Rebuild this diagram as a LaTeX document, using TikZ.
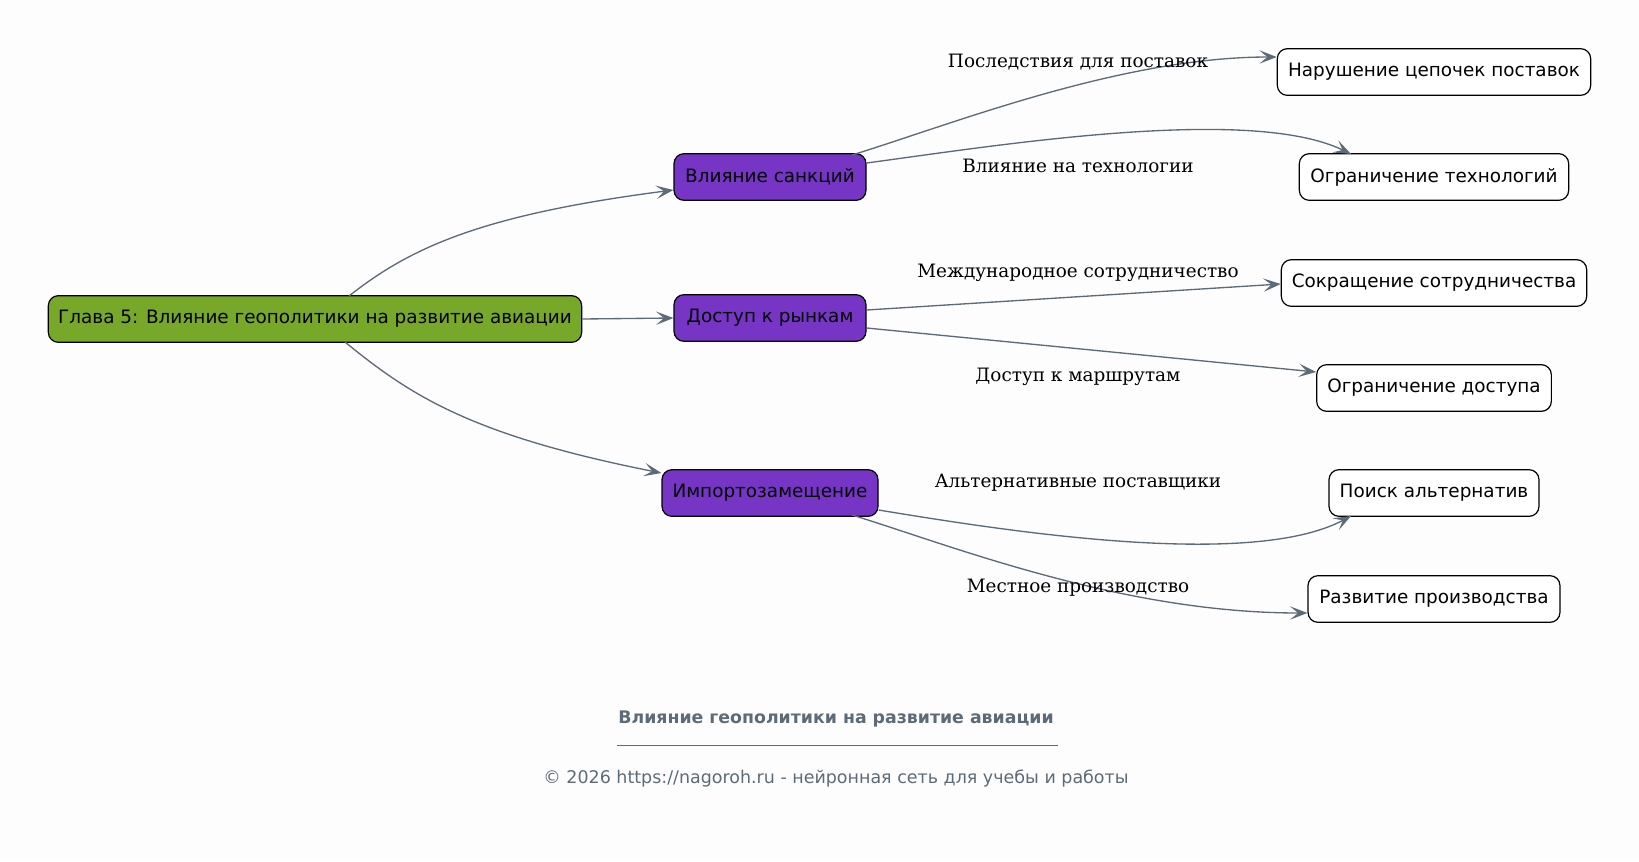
\documentclass[tikz,border=0pt]{standalone}
\usepackage{fontspec}
\setmainfont{DejaVu Serif}
\newfontfamily\djv{DejaVu Sans}
\usetikzlibrary{arrows.meta}
\definecolor{bgc}{RGB}{253,253,253}
\definecolor{slate}{RGB}{93,107,120}
\definecolor{greenn}{RGB}{120,168,42}
\definecolor{purp}{RGB}{118,53,196}
\tikzset{
  box/.style={draw=black, line width=0.9pt, rounded corners=7.5pt, minimum height=35pt, inner xsep=2pt, font=\djv\fontsize{13.8}{16}\selectfont, text=black},
  root/.style={box, fill=greenn},
  mid/.style={box, fill=purp},
  leaf/.style={box, fill=white},
  conn/.style={draw=slate, line width=1pt, -{Stealth[length=13pt,width=10pt,inset=6pt]}},
  elabel/.style={font=\fontsize{13.8}{16}\selectfont, text=black},
}
\begin{document}
\begin{tikzpicture}[x=0.75pt,y=-0.75pt]
\fill[bgc] (0,0) rectangle (1639,861);
\useasboundingbox (0,0) rectangle (1639,861);

\node[root, minimum width=400pt] (main) at (315,319) {Глава 5: Влияние геополитики на развитие авиации};
\node[mid, minimum width=144pt] (sank) at (770,177) {Влияние санкций};
\node[mid, minimum width=144pt] (rynk) at (770,318) {Доступ к рынкам};
\node[mid, minimum width=162pt] (imp) at (770,493) {Импортозамещение};

\node[leaf, minimum width=235pt] (nar) at (1434,72) {Нарушение цепочек поставок};
\node[leaf, minimum width=202pt] (ogt) at (1434,177) {Ограничение технологий};
\node[leaf, minimum width=229pt] (sok) at (1434,283) {Сокращение сотрудничества};
\node[leaf, minimum width=176pt] (ogd) at (1434,388) {Ограничение доступа};
\node[leaf, minimum width=157.5pt] (poi) at (1434,493) {Поиск альтернатив};
\node[leaf, minimum width=189pt] (raz) at (1434,599) {Развитие производства};

\coordinate (mainT) at (349,296);
\coordinate (mainB) at (345,342);
\coordinate (sankTR) at (852,155);
\coordinate (impBR) at (852,515);
\coordinate (ogtT) at (1351,154);
\coordinate (poiB) at (1351,516);

\draw[conn] (mainT) .. controls (410,248) and (480,215) .. (sank.west |- 0,190);
\draw[conn] (main.east) -- (rynk.west);
\draw[conn] (mainB) .. controls (410,395) and (470,435) .. (imp.west |- 0,473);

\draw[conn] (sankTR) .. controls (950,125) and (1120,57) .. (nar.west |- 0,57);
\draw[conn] (sank.east |- 0,163) .. controls (1000,145) and (1250,105) .. (ogtT);
\draw[conn] (rynk.east |- 0,310) -- (sok.west |- 0,284);
\draw[conn] (rynk.east |- 0,328) -- (ogd.west |- 0,372);
\draw[conn] (imp.east |- 0,510) .. controls (1000,530) and (1250,570) .. (poiB);
\draw[conn] (impBR) .. controls (950,545) and (1120,613) .. (raz.west |- 0,613);

\node[elabel] (l1) at (1078,62) {Последствия для поставок};
\node[elabel] (l2) at (1078,166) {Влияние на технологии};
\node[elabel] (l3) at (1078,273) {Международное сотрудничество};
\node[elabel] (l4) at (1078,377) {Доступ к маршрутам};
\node[elabel] (l5) at (1078,483) {Альтернативные поставщики};
\node[elabel] (l6) at (1078,588) {Местное производство};

\node[font=\djv\bfseries\fontsize{13}{15}\selectfont, text=slate] (title) at (836,719) {Влияние геополитики на развитие авиации};
\coordinate (sepL) at (617,745);
\coordinate (sepR) at (1058,745);
\draw[slate, line width=0.6pt] (sepL) -- (sepR);
\node[font=\djv\fontsize{13.1}{15}\selectfont, text=slate] (copy) at (836,779) {© 2026 https://nagoroh.ru - нейронная сеть для учебы и работы};
\end{tikzpicture}
\end{document}
